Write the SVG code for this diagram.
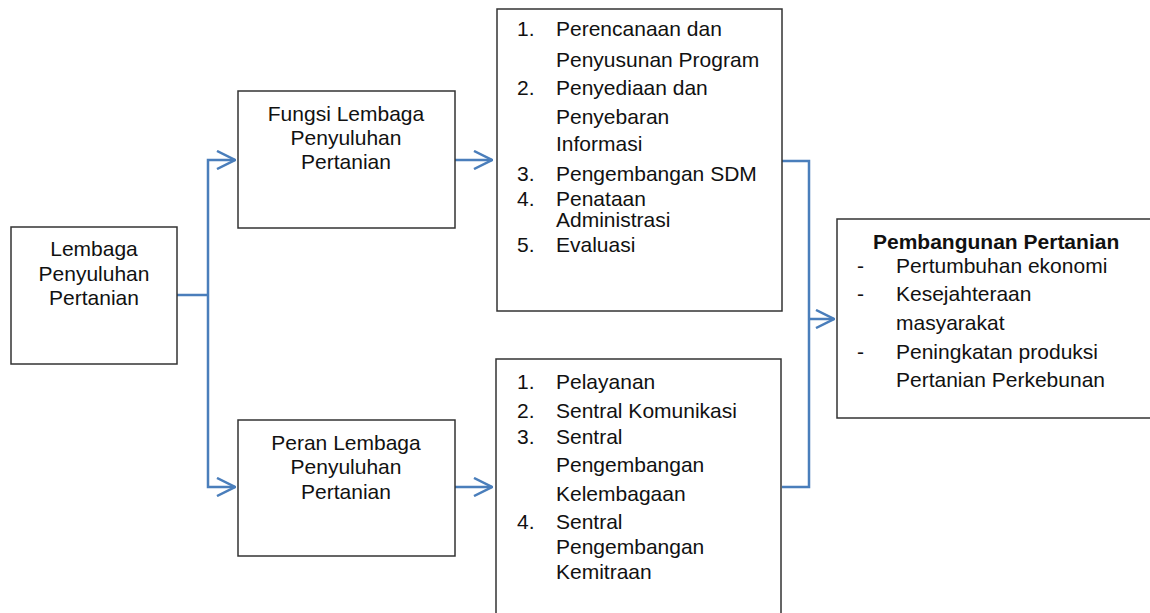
<svg xmlns="http://www.w3.org/2000/svg" width="1150" height="613" viewBox="0 0 1150 613">
<style>
.box{fill:#fff;stroke:#333;stroke-width:1.5}
.t{font-family:"Liberation Sans",Arial,sans-serif;font-size:21px;fill:#111}
.c{text-anchor:middle}
.b{font-weight:bold}
.con{fill:none;stroke:#4a7ebb;stroke-width:2.5}
</style>
<defs>
<marker id="arr" viewBox="0 0 20 20" refX="19" refY="10" markerWidth="20" markerHeight="20" markerUnits="userSpaceOnUse" orient="auto">
<path d="M1,1 L19,10 L1,19" fill="none" stroke="#4a7ebb" stroke-width="2.5"/>
</marker>
</defs>
<g id="connectors">
<polyline class="con" points="177,295 208,295"/>
<polyline class="con" points="208,295 208,160 235,160" marker-end="url(#arr)"/>
<polyline class="con" points="208,295 208,487 235,487" marker-end="url(#arr)"/>
<line class="con" x1="455" y1="160" x2="492" y2="160" marker-end="url(#arr)"/>
<line class="con" x1="455" y1="487" x2="492" y2="487" marker-end="url(#arr)"/>
<polyline class="con" points="782,161 809,161 809,487 782,487"/>
<line class="con" x1="809" y1="319" x2="834" y2="319" marker-end="url(#arr)"/>
</g>
<g id="node-lembaga">
<rect class="box" x="11" y="227" width="166" height="137"/>
<text class="t c" x="94" y="256">Lembaga</text>
<text class="t c" x="94" y="281">Penyuluhan</text>
<text class="t c" x="94" y="305">Pertanian</text>
</g>
<g id="node-fungsi">
<rect class="box" x="238" y="91" width="217" height="137"/>
<text class="t c" x="346" y="121">Fungsi Lembaga</text>
<text class="t c" x="346" y="145">Penyuluhan</text>
<text class="t c" x="346" y="169">Pertanian</text>
</g>
<g id="node-peran">
<rect class="box" x="238" y="420" width="217" height="136"/>
<text class="t c" x="346" y="450">Peran Lembaga</text>
<text class="t c" x="346" y="474">Penyuluhan</text>
<text class="t c" x="346" y="499">Pertanian</text>
</g>
<g id="node-fungsi-list">
<rect class="box" x="497" y="9" width="285" height="302"/>
<text class="t" x="517" y="36">1.</text><text class="t" x="556" y="36">Perencanaan dan</text>
<text class="t" x="556" y="67">Penyusunan Program</text>
<text class="t" x="517" y="95">2.</text><text class="t" x="556" y="95">Penyediaan dan</text>
<text class="t" x="556" y="124">Penyebaran</text>
<text class="t" x="556" y="151">Informasi</text>
<text class="t" x="517" y="181">3.</text><text class="t" x="556" y="181">Pengembangan SDM</text>
<text class="t" x="517" y="206">4.</text><text class="t" x="556" y="206">Penataan</text>
<text class="t" x="556" y="227">Administrasi</text>
<text class="t" x="517" y="252">5.</text><text class="t" x="556" y="252">Evaluasi</text>
</g>
<g id="node-peran-list">
<rect class="box" x="496" y="359" width="285" height="270"/>
<text class="t" x="517" y="389">1.</text><text class="t" x="556" y="389">Pelayanan</text>
<text class="t" x="517" y="418">2.</text><text class="t" x="556" y="418">Sentral Komunikasi</text>
<text class="t" x="517" y="444">3.</text><text class="t" x="556" y="444">Sentral</text>
<text class="t" x="556" y="472">Pengembangan</text>
<text class="t" x="556" y="501">Kelembagaan</text>
<text class="t" x="517" y="529">4.</text><text class="t" x="556" y="529">Sentral</text>
<text class="t" x="556" y="554">Pengembangan</text>
<text class="t" x="556" y="579">Kemitraan</text>
</g>
<g id="node-pembangunan">
<rect class="box" x="837" y="219" width="320" height="199"/>
<text class="t b" x="873" y="249">Pembangunan Pertanian</text>
<text class="t" x="857" y="273">-</text><text class="t" x="896" y="273">Pertumbuhan ekonomi</text>
<text class="t" x="857" y="301">-</text><text class="t" x="896" y="301">Kesejahteraan</text>
<text class="t" x="896" y="330">masyarakat</text>
<text class="t" x="857" y="359">-</text><text class="t" x="896" y="359">Peningkatan produksi</text>
<text class="t" x="896" y="387">Pertanian Perkebunan</text>
</g>
</svg>
